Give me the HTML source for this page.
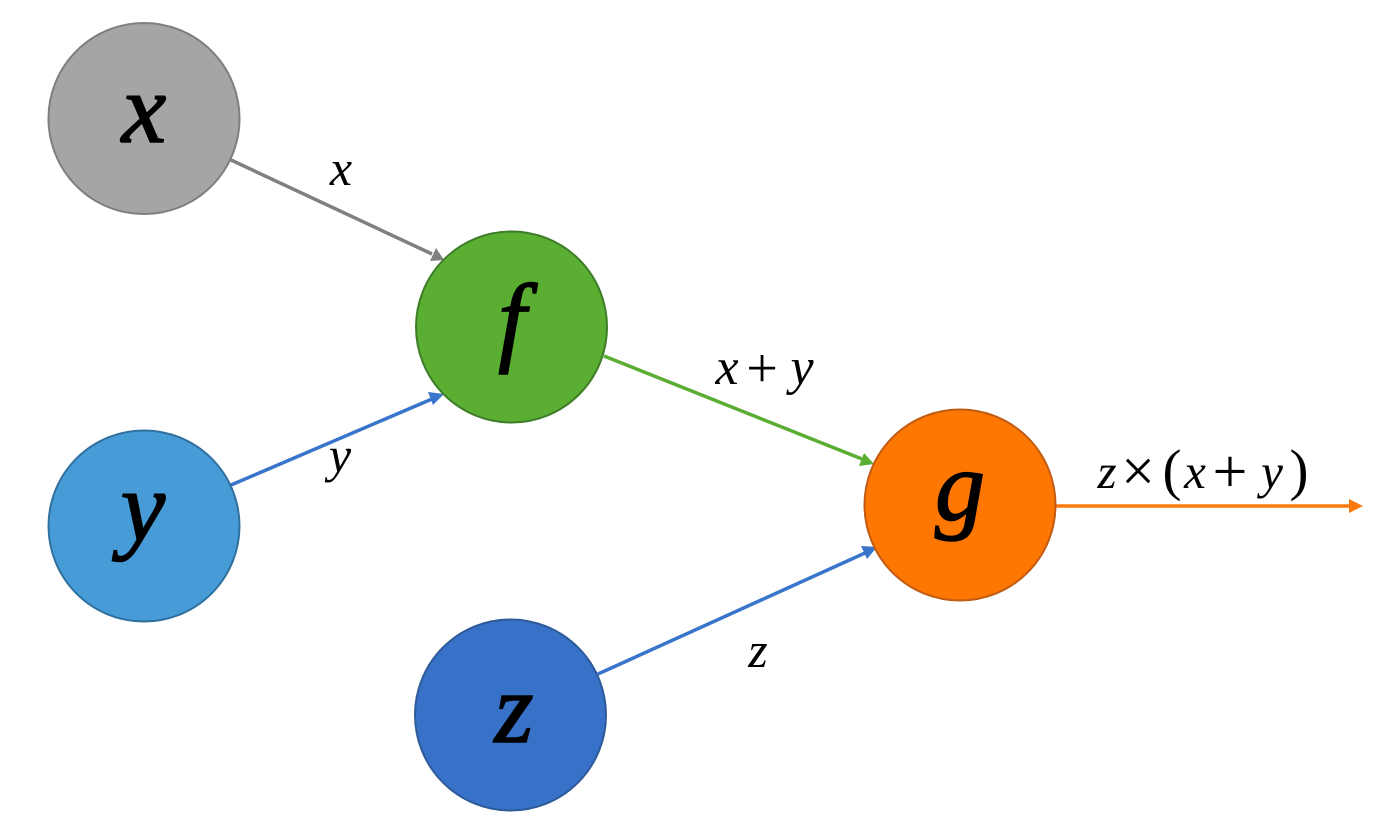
<!DOCTYPE html>
<html>
<head>
<meta charset="utf-8">
<style>
html,body{margin:0;padding:0;background:#fff;}
svg{display:block;}
text{font-family:"Liberation Serif","Times New Roman",serif;font-style:italic;fill:#000;}
.n{font-size:100px;stroke:#000;stroke-width:1.6px;}
.e{font-size:50px;}
.r{font-style:normal;}
</style>
</head>
<body>
<svg width="1374" height="828" viewBox="0 0 1374 828" xmlns="http://www.w3.org/2000/svg">
  <!-- edges -->
  <line x1="231" y1="160" x2="432" y2="254" stroke="#808080" stroke-width="3.5"/>
  <polygon points="444,260 430,261 436,248" fill="#808080"/>
  <line x1="231" y1="485" x2="432" y2="399" stroke="#3a75cc" stroke-width="3.5"/>
  <polygon points="444,394 433,405 428,392" fill="#3a75cc"/>
  <line x1="604" y1="356" x2="862" y2="459" stroke="#5bae34" stroke-width="3.5"/>
  <polygon points="874,464 859,466 864,453" fill="#5bae34"/>
  <line x1="598" y1="674" x2="865" y2="553" stroke="#3a75cc" stroke-width="3.5"/>
  <polygon points="877,547 867,559 861,546" fill="#3a75cc"/>
  <line x1="1056" y1="506" x2="1350" y2="506" stroke="#fb7a10" stroke-width="3.5"/>
  <polygon points="1363,506 1349,499 1349,513" fill="#fb7a10"/>

  <!-- nodes -->
  <circle cx="144" cy="118.5" r="95.5" fill="#a5a5a5" stroke="#7f7f7f" stroke-width="2"/>
  <circle cx="144" cy="526" r="95.5" fill="#479cd8" stroke="#30709f" stroke-width="2"/>
  <circle cx="511.5" cy="327" r="95.5" fill="#5aaf33" stroke="#3e7d27" stroke-width="2"/>
  <circle cx="960" cy="505" r="95.5" fill="#fe7703" stroke="#c25b12" stroke-width="2"/>
  <circle cx="510.5" cy="715" r="95.5" fill="#3872c8" stroke="#2d5a99" stroke-width="2"/>

  <!-- node labels -->
  <text class="n" x="144" y="142" text-anchor="middle">x</text>
  <text class="n" x="143" y="540" text-anchor="middle">y</text>
  <text class="n" x="512" y="353" text-anchor="middle">f</text>
  <text class="n" x="960" y="520" text-anchor="middle">g</text>
  <text class="n" x="514" y="742" text-anchor="middle">z</text>

  <!-- edge labels -->
  <text class="e" x="341" y="185" text-anchor="middle">x</text>
  <text class="e" x="340" y="472" text-anchor="middle">y</text>
  <text class="e" x="758" y="667" text-anchor="middle">z</text>
  <text class="e" x="727" y="384" text-anchor="middle" style="font-size:52px;">x</text>
  <text class="r" x="762" y="387" text-anchor="middle" style="font-size:56px;">+</text>
  <text class="e" x="802" y="384" text-anchor="middle" style="font-size:52px;">y</text>

  <text x="1107" y="488" text-anchor="middle" style="font-size:49px;">z</text>
  <text class="r" x="1138" y="491" text-anchor="middle" style="font-size:60px;">×</text>
  <text class="r" x="1172" y="489" text-anchor="middle" style="font-size:57px;">(</text>
  <text x="1195" y="488" text-anchor="middle" style="font-size:49px;">x</text>
  <text class="r" x="1230" y="492" text-anchor="middle" style="font-size:62px;">+</text>
  <text x="1272" y="488" text-anchor="middle" style="font-size:49px;">y</text>
  <text class="r" x="1299" y="489" text-anchor="middle" style="font-size:57px;">)</text>
</svg>
</body>
</html>
